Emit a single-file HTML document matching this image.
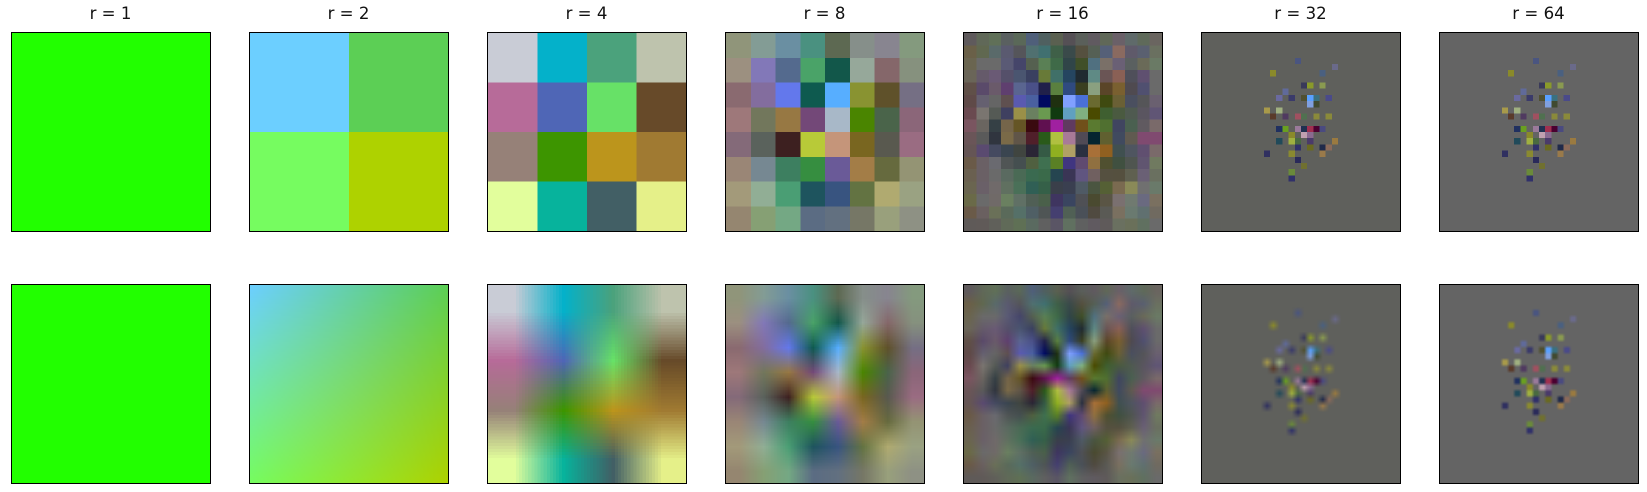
<!DOCTYPE html>
<html style="overflow:hidden"><head><meta charset="utf-8">
<style>
html,body{margin:0;width:1647px;height:492px;overflow:hidden}
body{background:#fff;position:relative;font-family:"DejaVu Sans","Liberation Sans",sans-serif}
.t{position:absolute;top:4px;width:198px;text-align:center;font-size:16.6px;color:#111}
.box{position:absolute;width:198px;height:198px;border:1.3px solid #000;box-sizing:content-box;overflow:hidden}
canvas{position:absolute;left:0;top:0;width:198px;height:198px;display:block}
.px{image-rendering:pixelated}
</style></head><body>
<script>
const resolutions=[1,2,4,8,16,32,64];
const grid1=[["22ff00"]];
const grid2=[["6ccfff","5ccf55"],["76fc60","aed200"]];
const grid4=[["c9ccd6","04b1ca","4ba27c","bec3ad"],["b76b99","4f66b6","67e167","674a29"],["968178","3d9500","bc951c","a07a32"],["e2fe9c","07b39c","425f65","e5f089"]];
const grid8=[
["90957a","839c95","6a8fa2","4a9180","5d6952","868f8a","888590","849a7e"],
["9c9080","8278b8","546a8e","4aa368","12574a","96a89a","85676a","86917e"],
["8a6a70","836d9e","6378ec","0e5a4f","57aeff","899331","5f512a","756f84"],
["9e787a","72775c","977843","734878","a8b8c8","4a8500","4a644a","8b6679"],
["846a79","5a625c","3d2020","b8ca38","c5957a","796620","59594f","9a6c82"],
["9a8676","768892","3d7f60","368e40","6a5a98","a37d47","666a3e","949474"],
["a39a7a","91ae95","4a9e74","1e545e","385480","637342","b0aa70","9aa282"],
["958670","86a074","74a884","5b6c83","627080","767766","99a07c","8e9184"]];
const grid16=[
["5f5a5c","606858","607058","5a6060","5a6858","4f5f7a","4f6060","5a6050","555055","5a5f5a","605a60","606858","6a6068","5f6a6a","5f6a5a","6a6560"],
["6a6048","606850","5a6a6a","5a5a70","55555a","507070","407070","3f6048","3a4a4a","55503f","556055","556078","8a6a60","5f5a6a","5a6070","6a7060"],
["6a6550","6a6a6a","6a6a6a","5a5a75","45456a","556050","5a8055","3f6a48","304548","404f28","507080","7a7068","6a6075","5a6060","6a6a58","6a7a65"],
["6a6558","655a6a","6a5a75","55506a","4a5570","3a4060","687a38","407068","254560","202a30","5f8a85","6a5555","8a6055","4f4f5a","5f5070","6a6a6a"],
["605048","5a4a6a","6a5a6a","5f3f6f","5a6590","4a5088","20204a","5a803f","2f4a80","3a3f20","8aa080","5a4528","7a6030","4f4a50","505070","6a6a6a"],
["5f4a48","656070","656565","5f5050","5a5ab0","4a60a0","000a60","1f3010","80a0ff","4a70d8","6a6a30","3f4a10","6a6035","4a4f5f","555558","6a6070"],
["6a4a50","7a7570","555a55","3f4060","9a9048","6a8060","6a9a50","103a10","60a0c0","80b080","4a4a00","3f5f30","4a5a40","4f5a50","5a5560","605575"],
["7a5560","6a6560","354045","75654a","655525","3a0a10","601050","a020a0","603a60","70501a","5a7a30","507030","404560","4a6050","605a60","7a6a6a"],
["6a5558","5a5a5a","30353f","7a6a48","605548","501f2a","2a5a1a","b0c040","a87a98","504a55","052530","606030","404a5f","605a50","804a70","804a70"],
["655555","5a4a70","454a60","3a4550","404540","2a2535","355a45","90b020","b0a065","2a3040","a87038","906020","405050","4f5560","604f70","7a6a6a"],
["6a5a48","6a6065","6a6a70","505555","454f50","506040","3f7050","5a8025","403580","604a70","907040","505030","405040","4f5550","605570","707a60"],
["6a6050","6a6065","6a6a6a","5a6a60","4a6a55","3a6a50","3a6a4a","254550","3a3555","605580","706060","555040","55503f","5f6050","6a6075","6a7060"],
["6a6550","6a6068","706a6a","607060","4a7058","305f55","356048","3a3f4a","3a3f50","4f5a65","4a5540","556035","7a6a50","8a8a58","707070","6a7a6a"],
["6a6a48","6a6a6a","706a68","6a8060","607065","505f55","4a604a","3f3560","3a4560","4f5055","4a4a30","5a5545","7a7070","707a70","6a6a80","7a7060"],
["6a5a48","6a6060","6a7058","5a6a5a","557068","4f5f65","4f5555","453f70","506055","4a5058","504a40","5a5a55","7a7060","6a7a70","607070","706a60"],
["5f5a58","605a58","60605a","606a58","5f7055","5a6a60","606060","5a5565","607060","5f6060","605a60","5f5a5a","6a7060","6a705a","607060","6a6a6a"]];
// detail spots for r=32 grid: [col,row,color]
const spots32=[[15,4,"4a5580"],[11,6,"8a8a2a"],[19,6,"4a6080"],[21,5,"6a6a8a"],[13,9,"606a9a"],[16,8,"3a3a5a"],[17,8,"8a9a2a"],[19,8,"8a9a50"],[12,10,"6a6aa0"],[14,10,"3a3a6a"],[16,10,"505030"],[17,10,"5aa0ff"],[18,10,"3a7080"],[20,10,"4a4a8a"],[17,11,"80a0e0"],[18,11,"404a30"],[10,12,"a89a4a"],[12,12,"a0b080"],[11,13,"5a3a2a"],[13,13,"503a60"],[15,13,"a05060"],[16,13,"507050"],[18,13,"8a8a3a"],[20,13,"8a8a3a"],[12,15,"203060"],[13,15,"6aa020"],[15,15,"9a7a9a"],[16,15,"203050"],[17,15,"a03050"],[18,15,"4a0030"],[19,15,"4a4a80"],[14,16,"8a8a2a"],[16,16,"c0a0b0"],[17,16,"8a6a90"],[12,17,"204a5a"],[14,17,"a0b040"],[15,17,"4a6a40"],[17,17,"4a3a6a"],[21,17,"9a7a40"],[15,18,"30306a"],[17,18,"6a6a20"],[19,18,"202a4a"],[20,18,"8a6a5a"],[10,19,"303060"],[14,19,"8a8a30"],[19,19,"9a7a4a"],[15,20,"2a2a5a"],[16,21,"707030"],[14,23,"30306a"],[14,22,"6a8a3a"]];
const gray32="5f605c", gray64="646464";
const panelX=[10.5,248.5,486.5,724.5,962.5,1200.5,1438.5];
const rowY=[32,284];

function hex(h){return [parseInt(h.slice(0,2),16),parseInt(h.slice(2,4),16),parseInt(h.slice(4,6),16)];}
function makeCanvas(r){
  const c=document.createElement('canvas');c.width=r;c.height=r;
  const g=c.getContext('2d');
  let grid=null;
  if(r===1)grid=grid1;else if(r===2)grid=grid2;else if(r===4)grid=grid4;else if(r===8)grid=grid8;else if(r===16)grid=grid16;
  if(grid){for(let i=0;i<r;i++)for(let j=0;j<r;j++){g.fillStyle='#'+grid[i][j];g.fillRect(j,i,1,1);}}
  else{
    g.fillStyle='#'+(r===32?gray32:gray64);g.fillRect(0,0,r,r);
    const s=r/32;
    spots32.forEach(p=>{g.fillStyle='#'+p[2];g.fillRect(p[0]*s,p[1]*s,s,s);});
  }
  return c;
}
function cornerGradient(grid){
  const N=99;const c=document.createElement('canvas');c.width=N;c.height=N;
  const g=c.getContext('2d');const im=g.createImageData(N,N);
  const a=hex(grid[0][0]),b=hex(grid[0][1]),d=hex(grid[1][0]),e=hex(grid[1][1]);
  for(let y=0;y<N;y++)for(let x=0;x<N;x++){
    const u=x/(N-1),v=y/(N-1);const o=(y*N+x)*4;
    for(let k=0;k<3;k++)im.data[o+k]=(a[k]*(1-u)+b[k]*u)*(1-v)+(d[k]*(1-u)+e[k]*u)*v;
    im.data[o+3]=255;
  }
  g.putImageData(im,0,0);return c;
}
resolutions.forEach((r,k)=>{
  const t=document.createElement('div');t.className='t';t.style.left=(panelX[k]+1)+'px';t.textContent='r = '+r;
  
  
  document.body.appendChild(t);
  [0,1].forEach(row=>{
    const box=document.createElement('div');box.className='box';
    box.style.left=panelX[k]+'px';box.style.top=rowY[row]+'px';
    
    
    const c=(row===1&&r===2)?cornerGradient(grid2):makeCanvas(r);
    if(row===0){c.className='px';}
    
    
    box.appendChild(c);
    document.body.appendChild(box);
  });
});
</script>
</body></html>
